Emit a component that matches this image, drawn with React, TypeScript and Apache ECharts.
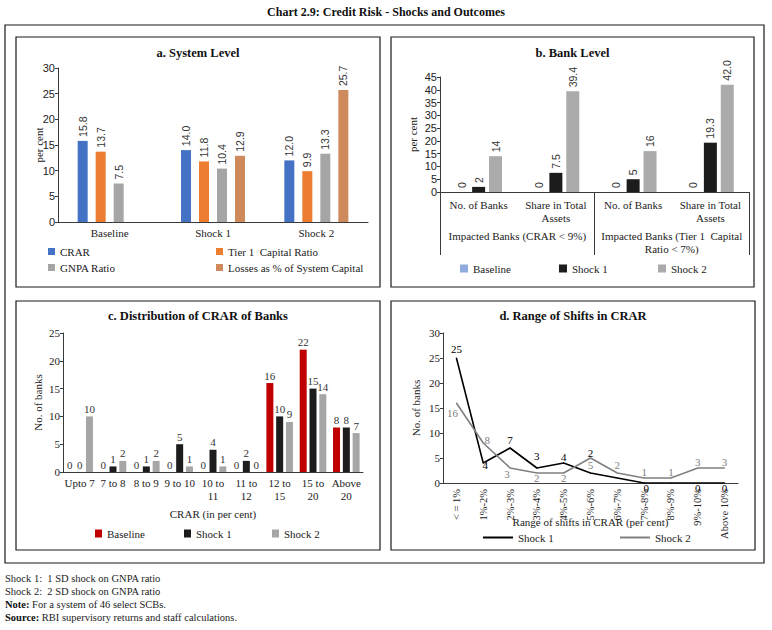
import React, { useEffect, useRef } from "react";
import * as echarts from "echarts";

const SERIF = "'Liberation Serif', 'DejaVu Serif', serif";
const SANS = "'Liberation Sans', 'DejaVu Sans', sans-serif";

// ---------- Panel a: System Level ----------
const aCategories = ["Baseline", "Shock 1", "Shock 2"];
const aCRAR = [15.8, 14.0, 12.0];
const aTier1 = [13.7, 11.8, 9.9];
const aGNPA = [7.5, 10.4, 13.3];
const aLosses = [null, 12.9, 25.7];

// ---------- Panel b: Bank Level ----------
const bCategories = ["No. of Banks", "Share in Total\nAssets", "No. of Banks", "Share in Total\nAssets"];
const bGroups = ["Impacted Banks (CRAR < 9%)", "Impacted Banks (Tier 1  Capital\nRatio < 7%)"];
const bBaseline = [0, 0, 0, 0];
const bShock1 = [2, 7.5, 5, 19.3];
const bShock2 = [14, 39.4, 16, 42.0];

// ---------- Panel c: Distribution of CRAR of Banks ----------
const cCategories = ["Upto 7", "7 to 8", "8 to 9", "9 to 10", "10 to\n11", "11 to\n12", "12 to\n15", "15 to\n20", "Above\n20"];
const cBaseline = [0, 0, 0, 0, 0, 0, 16, 22, 8];
const cShock1 = [0, 1, 1, 5, 4, 2, 10, 15, 8];
const cShock2 = [10, 2, 2, 1, 1, 0, 9, 14, 7];

// ---------- Panel d: Range of Shifts in CRAR ----------
const dCategories = ["< = 1%", "1%-2%", "2%-3%", "3%-4%", "4%-5%", "5%-6%", "6%-7%", "7%-8%", "8%-9%", "9%-10%", "Above 10%"];
const dShock1 = [25, 4, 7, 3, 4, 2, 1, 0, 0, 0, 0];
const dShock2 = [16, 8, 3, 2, 2, 5, 2, 1, 1, 3, 3];

// label placement for panel d (style only)
const dShock1Labels: any[] = [
  { position: "top", distance: 3 },
  { position: "inside", offset: [2, 2] },
  { position: "top", distance: 2 },
  { position: "top", distance: 6 },
  { position: "top", distance: 0 },
  { position: "top", distance: 0, offset: [0, -14] },
  null,
  { position: "inside", offset: [2, 5] },
  null,
  { position: "inside", offset: [0, 5] },
  { position: "inside", offset: [0, 5] },
];
const dShock2Labels: any[] = [
  { position: "bottom", distance: 4, offset: [-4, 0] },
  { position: "inside", offset: [4, -3] },
  { position: "bottom", distance: 0, offset: [-3, 0] },
  { position: "bottom", distance: -1 },
  { position: "bottom", distance: -1 },
  { position: "bottom", distance: 1 },
  { position: "top", distance: 2 },
  { position: "top", distance: 0 },
  { position: "top", distance: 0 },
  { position: "top", distance: 0 },
  { position: "top", distance: 0 },
];

const axisColor = "#3a3a3a";
const titleStyle = { fontFamily: SERIF, fontSize: 12.5, fontWeight: "bold" as const, color: "#111" };
const legendText = { fontFamily: SERIF, fontSize: 11, color: "#222" };

function valueAxis(max: number, name: string, nameGap: number, font: string) {
  return {
    type: "value",
    min: 0,
    max,
    interval: 5,
    name,
    nameLocation: "middle",
    nameGap,
    nameMoveOverlap: false,
    nameTextStyle: { fontFamily: SERIF, fontSize: 11, color: "#222" },
    axisLine: { show: true, lineStyle: { color: axisColor } },
    axisTick: { show: true, length: 3, lineStyle: { color: axisColor } },
    splitLine: { show: false },
    axisLabel: { fontFamily: font, fontSize: 11, color: "#222", margin: 3 },
  };
}

function optionA(): any {
  const lab = {
    show: true,
    position: "top",
    rotate: 90,
    align: "left",
    verticalAlign: "middle",
    distance: 4,
    fontFamily: SANS,
    fontSize: 10.5,
    color: "#333",
    formatter: (p: any) => (p.value == null ? "" : Number(p.value).toFixed(1)),
  };
  const mk = (name: string, data: any[], color: string) => ({
    name,
    type: "bar",
    data,
    barWidth: 10,
    barGap: "80%",
    itemStyle: { color },
    label: lab,
  });
  return {
    animation: false,
    title: { text: "a. System Level", left: "center", top: 4, textStyle: titleStyle },
    grid: { left: 42, top: 31, width: 310, height: 154 },
    legend: [
      { data: ["CRAR", "GNPA Ratio"], orient: "vertical", left: 27, top: 204, itemWidth: 7, itemHeight: 7, itemGap: 5, icon: "rect", textStyle: legendText },
      { data: ["Tier 1  Capital Ratio", "Losses as % of System Capital"], orient: "vertical", left: 195, top: 204, itemWidth: 7, itemHeight: 7, itemGap: 5, icon: "rect", textStyle: legendText },
    ],
    xAxis: {
      type: "category",
      data: aCategories,
      axisLine: { lineStyle: { color: axisColor } },
      axisTick: { length: 4, lineStyle: { color: axisColor } },
      axisLabel: { fontFamily: SERIF, fontSize: 11, color: "#222", margin: 5 },
    },
    yAxis: valueAxis(30, "per cent", 14, SANS),
    series: [
      mk("CRAR", aCRAR, "#4472C4"),
      mk("Tier 1  Capital Ratio", aTier1, "#ED7D31"),
      mk("GNPA Ratio", aGNPA, "#A5A5A5"),
      mk("Losses as % of System Capital", aLosses, "#CF8A5C"),
    ],
  };
}

function optionB(): any {
  const lab = {
    show: true,
    position: "top",
    rotate: 90,
    align: "left",
    verticalAlign: "middle",
    distance: 4,
    fontFamily: SANS,
    fontSize: 10.5,
    color: "#333",
    formatter: (p: any) => (p.value === 0 ? "0" : p.dataIndex % 2 === 1 ? Number(p.value).toFixed(1) : String(p.value)),
  };
  const mk = (name: string, data: number[], color: string) => ({
    name,
    type: "bar",
    data,
    barWidth: 13,
    barGap: "30%",
    itemStyle: { color },
    label: lab,
  });
  const lg = (name: string, left: number) => ({
    data: [name],
    left,
    top: 221,
    itemWidth: 8,
    itemHeight: 8,
    itemGap: 3,
    icon: "rect",
    textStyle: legendText,
  });
  return {
    animation: false,
    title: { text: "b. Bank Level", left: "center", top: 4, textStyle: titleStyle },
    grid: { left: 49, top: 40, width: 309, height: 115 },
    legend: [lg("Baseline", 64), lg("Shock 1", 163), lg("Shock 2", 262)],
    xAxis: [
      {
        type: "category",
        data: bCategories,
        axisLine: { lineStyle: { color: axisColor } },
        axisTick: { length: 3, lineStyle: { color: axisColor } },
        axisLabel: { fontFamily: SERIF, fontSize: 11, color: "#222", margin: 6, interval: 0, lineHeight: 13 },
      },
      {
        type: "category",
        data: bGroups,
        position: "bottom",
        axisLine: { show: false },
        axisTick: { show: true, length: 63, interval: 0, lineStyle: { color: axisColor } },
        axisLabel: { fontFamily: SERIF, fontSize: 11, color: "#222", margin: 37, interval: 0, lineHeight: 13 },
      },
    ],
    yAxis: valueAxis(45, "per cent", 22, SANS),
    series: [mk("Baseline", bBaseline, "#8FAADC"), mk("Shock 1", bShock1, "#1C1C1C"), mk("Shock 2", bShock2, "#ABABAB")],
  };
}

function optionC(): any {
  const lab = { show: true, position: "top", distance: 2, fontFamily: SERIF, fontSize: 11, color: "#333" };
  const mk = (name: string, data: number[], color: string) => ({
    name,
    type: "bar",
    data,
    barWidth: 7,
    barGap: "40%",
    itemStyle: { color },
    label: lab,
  });
  const lg = (name: string, left: number) => ({
    data: [name],
    left,
    top: 222,
    itemWidth: 7,
    itemHeight: 8,
    itemGap: 3,
    icon: "rect",
    textStyle: legendText,
  });
  return {
    animation: false,
    title: { text: "c. Distribution of CRAR of Banks", left: "center", top: 3, textStyle: titleStyle },
    grid: { left: 47, top: 32, width: 300, height: 139 },
    legend: [lg("Baseline", 74), lg("Shock 1", 163), lg("Shock 2", 251)],
    xAxis: {
      type: "category",
      data: cCategories,
      name: "CRAR (in per cent)",
      nameLocation: "middle",
      nameGap: 36,
      nameMoveOverlap: false,
      nameTextStyle: { fontFamily: SERIF, fontSize: 11, color: "#222" },
      axisLine: { lineStyle: { color: axisColor } },
      axisTick: { length: 4, lineStyle: { color: axisColor } },
      axisLabel: { fontFamily: SERIF, fontSize: 11, color: "#222", margin: 4, interval: 0, lineHeight: 13 },
    },
    yAxis: valueAxis(25, "No. of banks", 20, SERIF),
    series: [mk("Baseline", cBaseline, "#C00000"), mk("Shock 1", cShock1, "#1C1C1C"), mk("Shock 2", cShock2, "#A6A6A6")],
  };
}

function optionD(): any {
  const mkData = (vals: number[], labels: any[], color: string) =>
    vals.map((v, i) => ({
      value: v,
      label: labels[i] ? { show: true, color, fontFamily: SERIF, fontSize: 11, ...labels[i] } : { show: false },
    }));
  const mk = (name: string, vals: number[], labels: any[], color: string) => ({
    name,
    type: "line",
    data: mkData(vals, labels, color),
    symbol: "circle",
    symbolSize: 1,
    itemStyle: { color },
    lineStyle: { color, width: 1.6 },
    label: { show: true },
  });
  const lg = (name: string, left: number, color: string) => ({
    data: [{ name, itemStyle: { color } }],
    left,
    top: 226,
    itemWidth: 30,
    itemHeight: 2,
    itemGap: 3,
    icon: "rect",
    textStyle: legendText,
  });
  return {
    animation: false,
    title: { text: "d. Range of Shifts in CRAR", left: "center", top: 3, textStyle: titleStyle },
    grid: { left: 52, top: 32, width: 295, height: 150 },
    legend: [lg("Shock 1", 87, "#000"), lg("Shock 2", 224, "#808080")],
    xAxis: {
      type: "category",
      data: dCategories,
      name: "Range of shifts in CRAR (per cent)",
      nameLocation: "middle",
      nameGap: 33,
      nameMoveOverlap: false,
      nameTextStyle: { fontFamily: SERIF, fontSize: 11, color: "#222" },
      axisLine: { lineStyle: { color: axisColor } },
      axisTick: { length: 3, lineStyle: { color: axisColor } },
      axisLabel: { fontFamily: SERIF, fontSize: 10.5, color: "#222", margin: 6, interval: 0, rotate: 90 },
    },
    yAxis: valueAxis(30, "No. of banks", 22, SERIF),
    series: [mk("Shock 1", dShock1, dShock1Labels, "#000000"), mk("Shock 2", dShock2, dShock2Labels, "#808080")],
  };
}

function optionBg(): any {
  const rect = (x: number, y: number, w: number, h: number) => ({
    type: "rect",
    shape: { x, y, width: w, height: h },
    style: { fill: "none", stroke: "#1a1a1a", lineWidth: 1.2 },
    silent: true,
  });
  const note = (y: number, text: string) => ({
    type: "text",
    x: 5,
    y,
    style: {
      text,
      fill: "#222",
      font: `10.5px ${SERIF}`,
      verticalAlign: "middle",
      rich: { b: { fontWeight: "bold", fontFamily: SERIF, fontSize: 10.5, fill: "#111" } },
    },
  });
  return {
    animation: false,
    graphic: [
      {
        type: "text",
        x: 386,
        y: 12,
        style: {
          text: "Chart 2.9: Credit Risk - Shocks and Outcomes",
          font: `bold 12px ${SERIF}`,
          fill: "#111",
          align: "center",
          verticalAlign: "middle",
        },
      },
      rect(5, 25, 759, 538),
      rect(16, 37, 364, 250),
      rect(391, 37, 363, 250),
      rect(16, 301, 364, 249),
      rect(391, 301, 364, 249),
      note(578, "Shock 1:  1 SD shock on GNPA ratio"),
      note(591, "Shock 2:  2 SD shock on GNPA ratio"),
      note(604, "{b|Note:} For a system of 46 select SCBs."),
      note(617, "{b|Source:} RBI supervisory returns and staff calculations."),
    ],
  };
}

export default function App() {
  const bgRef = useRef<HTMLDivElement>(null);
  const aRef = useRef<HTMLDivElement>(null);
  const bRef = useRef<HTMLDivElement>(null);
  const cRef = useRef<HTMLDivElement>(null);
  const dRef = useRef<HTMLDivElement>(null);

  useEffect(() => {
    const pairs: [HTMLDivElement | null, any][] = [
      [bgRef.current, optionBg()],
      [aRef.current, optionA()],
      [bRef.current, optionB()],
      [cRef.current, optionC()],
      [dRef.current, optionD()],
    ];
    const charts = pairs
      .filter(([el]) => el)
      .map(([el, opt]) => {
        const ch = echarts.init(el as HTMLDivElement, undefined, { renderer: "svg" });
        ch.setOption(opt);
        return ch;
      });
    return () => charts.forEach((c) => c.dispose());
  }, []);

  const abs = (left: number, top: number, width: number, height: number): React.CSSProperties => ({
    position: "absolute",
    left,
    top,
    width,
    height,
  });

  return (
    <div style={{ position: "absolute", left: 0, top: 0, width: 772, height: 630, background: "#fff" }}>
      <div ref={bgRef} style={abs(0, 0, 772, 630)} />
      <div ref={aRef} style={abs(16, 37, 364, 250)} />
      <div ref={bRef} style={abs(391, 37, 363, 250)} />
      <div ref={cRef} style={abs(16, 301, 364, 249)} />
      <div ref={dRef} style={abs(391, 301, 364, 249)} />
    </div>
  );
}
